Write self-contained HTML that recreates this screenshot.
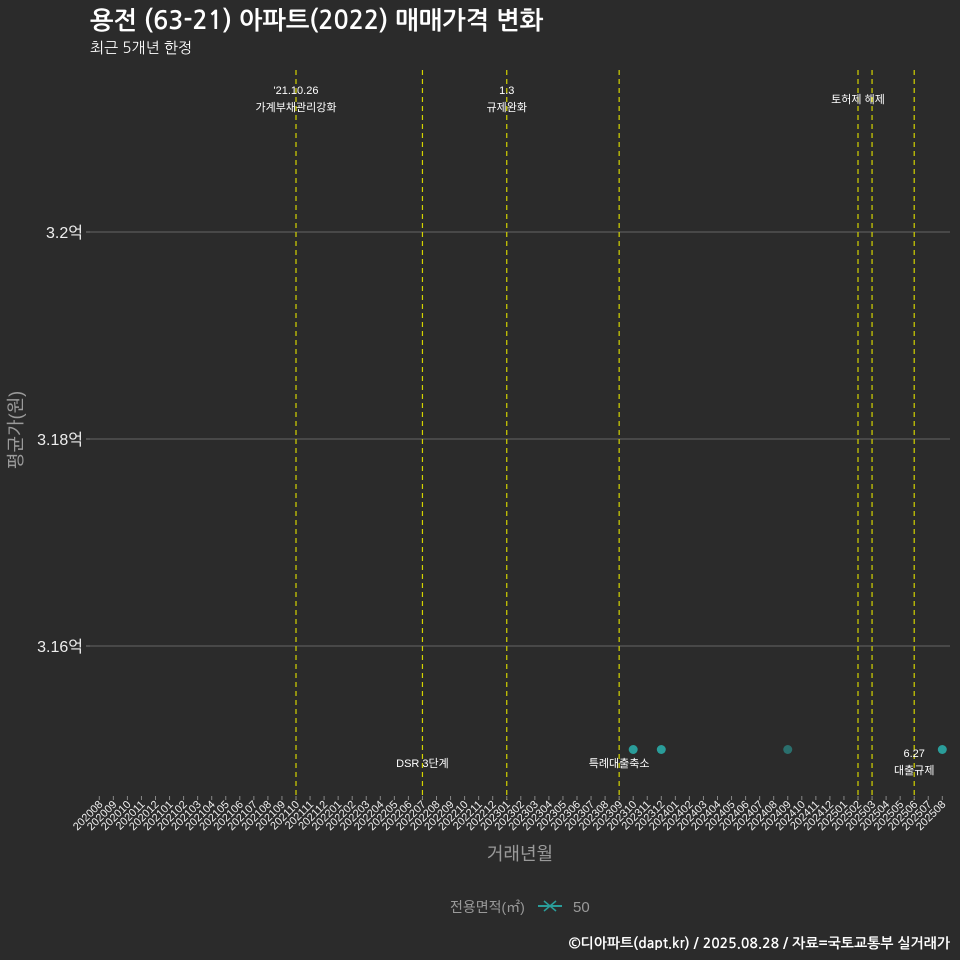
<!DOCTYPE html>
<html><head><meta charset="utf-8"><style>
html,body{margin:0;padding:0;background:#2b2b2b;}
svg{display:block;font-family:"Liberation Sans","Noto Sans CJK KR",sans-serif;}
.kr{font-family:"NanumGothic","Noto Sans CJK KR",sans-serif;}
</style></head><body>
<svg id="chart" width="960" height="960" xmlns="http://www.w3.org/2000/svg">
<rect width="960" height="960" fill="#2b2b2b"/>
<text class="kr" x="90" y="29" fill="#fff" font-size="25" font-weight="bold">용전 (63-21) 아파트(2022) 매매가격 변화</text>
<text class="kr" x="90" y="53" fill="#fff" font-size="15">최근 5개년 한정</text>
<g id="grid"></g>
<g id="events"></g>
<g id="points"></g>
<g id="xaxis"></g>
<g id="yaxis"></g>
<text x="520" y="860" fill="#9a9a9a" font-size="18" text-anchor="middle">거래년월</text>
<text transform="translate(22,430) rotate(-90)" fill="#9a9a9a" font-size="18" text-anchor="middle">평균가(원)</text>
<g>
<text x="450" y="912" fill="#9a9a9a" font-size="14">전용면적(㎡)</text>
<g>
<line x1="538" y1="906" x2="562" y2="906" stroke="#2a9d9a" stroke-width="2"/>
<path d="M544 901 L556 911 M556 901 L544 911" stroke="#2a9d9a" stroke-width="1.5"/>
<text x="573" y="912" fill="#9a9a9a" font-size="15">50</text>
</g>
</g>
<text class="kr" x="950" y="948" fill="#fff" font-size="14" font-weight="bold" text-anchor="end">©디아파트(dapt.kr) / 2025.08.28 / 자료=국토교통부 실거래가</text>
</svg>
<script>
const months = [];
for (let y = 2020; y <= 2025; y++) for (let m = 1; m <= 12; m++) { const k = y*100+m; if (k >= 202008 && k <= 202508) months.push(String(k)); }
const pointMonths = ["202310","202312","202409","202508"];
const pointValues = [3.15,3.15,3.15,3.15];
const pointAlpha = [1,1,0.6,1];
const yTicks = [3.16,3.18,3.2];
const yTickLabels = ["3.16억","3.18억","3.2억"];
const eventMonths = ["202110","202207","202301","202309","202502","202503","202506"];
const eventLabels = [["'21.10.26","가계부채관리강화"],["DSR 3단계"],["1.3","규제완화"],["특례대출축소"],["토허제 해제"],[],["6.27","대출규제"]];
const eventLabelY = [90,763,90,763,99,0,753];

const NS="http://www.w3.org/2000/svg";
const x0=99.3, dx=14.05;
const xs = m => x0 + months.indexOf(m)*dx;
const ys = v => 646 - (v-3.16)/0.02*207;
function mk(tag, attrs, parent){ const e=document.createElementNS(NS,tag); for(const k in attrs) e.setAttribute(k,attrs[k]); parent.appendChild(e); return e; }
const grid=document.getElementById('grid'), yaxis=document.getElementById('yaxis'), xaxis=document.getElementById('xaxis'), ev=document.getElementById('events'), pts=document.getElementById('points');
yTicks.forEach((v,i)=>{
  const l=mk('line',{x1:90,x2:950,y1:ys(v),y2:ys(v),stroke:'#5a5a5a','stroke-width':1.2},grid);
  
  
  mk('line',{x1:86,x2:90,y1:ys(v),y2:ys(v),stroke:'#777'},yaxis);
  const t=mk('text',{x:83,y:ys(v)+6,fill:'#eee','font-size':16,'text-anchor':'end'},yaxis);
  t.textContent=yTickLabels[i];
  
  
});
months.forEach(m=>{
  const x=xs(m);
  mk('line',{x1:x,x2:x,y1:796,y2:800,stroke:'#888'},xaxis);
  const t=mk('text',{transform:`translate(${x+4},${805}) rotate(-45)`,fill:'#eee','font-size':11,'text-anchor':'end'},xaxis);
  t.textContent=m;
  
  
});
eventMonths.forEach((m,i)=>{
  const x=xs(m);
  const l=mk('line',{x1:x,x2:x,y1:70,y2:800,stroke:'#d4d400','stroke-width':1.2,'stroke-dasharray':'5,4'},ev);
  
  
  eventLabels[i].forEach((s,j)=>{
    const t=mk('text',{x:x,y:eventLabelY[i]+4+j*17,fill:'#fff','font-size':11,'text-anchor':'middle'},ev);
    t.textContent=s;
    
    
  });
});
pointMonths.forEach((m,i)=>{
  const c=mk('circle',{cx:xs(m),cy:ys(pointValues[i]),r:4.5,fill:'#2a9d9a','fill-opacity':pointAlpha[i]},pts);
  
  
});
</script>
</body></html>
